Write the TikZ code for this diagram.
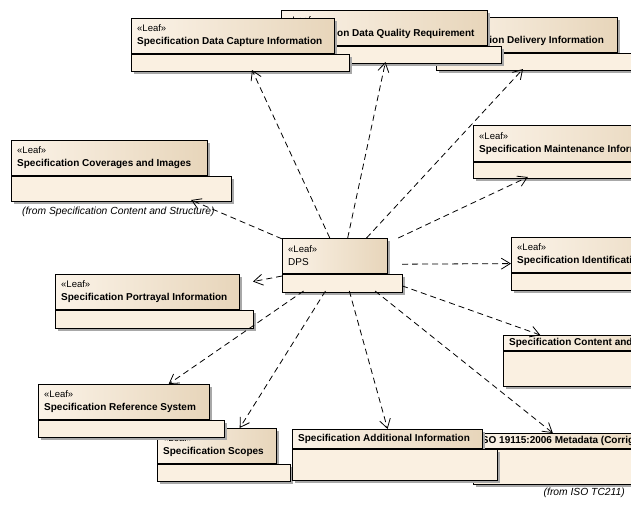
\documentclass[tikz,border=0pt]{standalone}
\usepackage{fontspec}
\setmainfont{Liberation Sans}
\usetikzlibrary{positioning, shadows, arrows.meta}

\definecolor{tabL}{HTML}{FBF3E8}
\definecolor{tabR}{HTML}{E7D5BA}
\definecolor{bodyC}{HTML}{FAF0E1}
\definecolor{shadowC}{HTML}{A8A8A8}

\newcommand{\stereo}{{\fontsize{9.5}{13}\selectfont «Leaf»}}
\newcommand{\ptitle}[1]{\textbf{#1}}

% package: name, x, y, tab width, tab height, body width, body height, text
\newcommand{\pkg}[8]{%
\node[pkgarea, minimum width=#6pt, minimum height=#5pt+#7pt] (#1) at (#2,#3) {};
\node[tab, minimum width=#4pt, minimum height=#5pt] (#1T) at (#1.north west) {};
\node[lbl] (#1L) at ([xshift=6pt]#1T.west) {#8};
\node[body, minimum width=#6pt, minimum height=#7pt] (#1B) at (#1T.south west) {};
}

\tikzset{
  pkgarea/.style={anchor=north west, inner sep=0pt, outer sep=0pt},
  pshadow/.style={drop shadow={shadow xshift=3pt, shadow yshift=-3pt, fill=shadowC, opacity=1}},
  tab/.style={draw, line width=0.9pt, anchor=north west, inner sep=0pt, left color=tabL, right color=tabR, pshadow},
  body/.style={draw, line width=0.9pt, anchor=north west, inner sep=0pt, fill=bodyC, pshadow},
  lbl/.style={anchor=west, align=left, inner sep=0pt, font=\fontsize{10}{13}\selectfont},
  note/.style={anchor=west, inner sep=0pt, font=\fontsize{10.3}{12}\selectfont\itshape},
  dep/.style={draw, line width=0.8pt, dash pattern=on 6pt off 4pt, -{Straight Barb[length=9pt, width=11pt]}}
}

\begin{document}
\begin{tikzpicture}[x=1pt, y=-1pt]
\clip (0,0) rectangle (631,512);

\pkg{del}{436}{17}{181}{35}{222}{17}{\stereo\\\ptitle{Specification Delivery Information}}
\pkg{qual}{281}{10}{206}{35}{220}{17}{\stereo\\\ptitle{Specification Data Quality Requirement}}
\pkg{cap}{131}{18}{203}{35}{218}{17}{\stereo\\\ptitle{Specification Data Capture Information}}
\pkg{cov}{11}{140}{196}{35}{220}{25}{\stereo\\\ptitle{Specification Coverages and Images}}
\pkg{dps}{282}{238}{105}{35}{120}{18}{\stereo\\DPS}
\pkg{port}{55}{274}{184}{35}{198}{18}{\stereo\\\ptitle{Specification Portrayal Information}}
\pkg{maint}{473}{125}{205}{36}{220}{16}{\stereo\\\ptitle{Specification Maintenance Information}}
\pkg{ident}{511}{237}{200}{35}{215}{17}{\stereo\\\ptitle{Specification Identification}}
\pkg{cont}{503}{335}{200}{15}{215}{35}{\ptitle{Specification Content and Structure}}
\pkg{scope}{157}{428}{119}{35}{133}{17}{\stereo\\\ptitle{Specification Scopes}}
\pkg{ref}{38}{384}{171}{35}{186}{17}{\stereo\\\ptitle{Specification Reference System}}
\pkg{meta}{473}{433}{208}{15}{222}{35}{\ptitle{ISO 19115:2006 Metadata (Corrigendum)}}
\pkg{add}{292}{429}{190}{19}{205}{31}{\ptitle{Specification Additional Information}}

\node[note] (covNote) at (22,212) {(from Specification Content and Structure)};
\node[note, anchor=east] (metaNote) at (625,493) {(from ISO TC211)};

\path (dps) edge[dep] (cap);
\path (dps) edge[dep] (qual);
\path (dps) edge[dep] (del);
\path (dps) edge[dep] (maint);
\path (dps) edge[dep] (ident);
\path (dps) edge[dep] (cont);
\path (dps) edge[dep] (meta);
\path (dps) edge[dep] (add);
\path (dps) edge[dep] (scope);
\path (dps) edge[dep] (ref);
\path (dps) edge[dep] (port);
\path (dps) edge[dep] (cov);
\end{tikzpicture}
\end{document}
